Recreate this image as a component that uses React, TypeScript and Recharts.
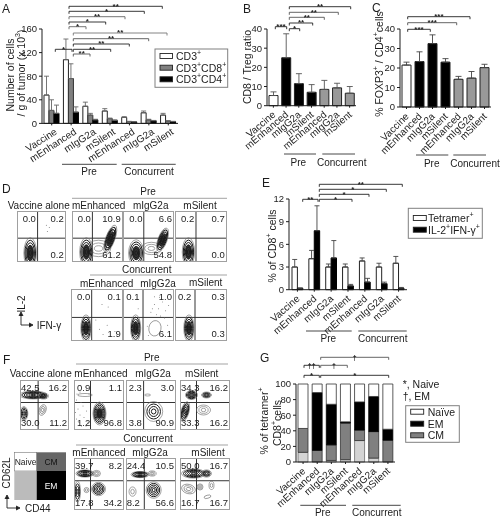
import { BarChart, Bar, XAxis, YAxis, ErrorBar, Cell, ScatterChart, Scatter, ReferenceLine } from 'recharts';

const FONT = '"Liberation Sans", Arial, sans-serif';
const INK = '#1c1c1c';

const categories = ['Vaccine', 'mEnhanced', 'mIgG2a', 'mSilent', 'mEnhanced', 'mIgG2a', 'mSilent'];

// panel A
const cd3Values = [48, 108, 29, 21, 10, 18, 14];
const cd3Errors = [32, 35, 7, 4, 1.5, 3, 3];
const cd8Values = [22, 76, 14, 8, 3, 6, 4];
const cd8Errors = [18, 25, 3, 1, 0.5, 1, 0.5];
const cd4Values = [17, 19, 6, 5, 2.5, 4.5, 3];
const cd4Errors = [14, 9, 1, 1, 0.5, 0.5, 0.5];
const ticksA = [0, 40, 80, 120, 160];

// panel B
const ratioValues = [5.3, 25, 11.5, 7, 8.5, 9.3, 6.5];
const ratioErrors = [1.9, 12.5, 5.2, 4, 4.7, 2.4, 3.5];
const ticksB = [0, 10, 20, 30, 40];

// panel C
const foxp3Values = [21.5, 23.3, 32.5, 23, 14.2, 14.8, 20.2];
const foxp3Errors = [1.5, 5, 4.5, 1.8, 1.5, 3.4, 1.7];
const ticksC = [0, 10, 20, 30, 40];

const groupColors = ['#ffffff', '#000000', '#000000', '#000000', '#999999', '#999999', '#999999'];

// panel E
const tetramerValues = [3, 4.1, 3, 3, 3.8, 3, 3.5];
const tetramerErrors = [1, 1.1, 0.4, 0.4, 0.4, 0.5, 0.9];
const il2Values = [0.2, 7.8, 4.2, 0.5, 1, 0.8, 0.2];
const il2Errors = [0, 3.3, 2.3, 0.2, 0.5, 0.2, 0.1];
const ticksE = [0, 3, 6, 9, 12];

// panel G
const dnValues = [12.4, 0, 2, 3, 27.5, 5, 0];
const cmValues = [30.6, 15, 20, 47, 13.5, 34, 28];
const emValues = [0, 74, 52, 1.5, 36, 45, 14];
const naiveValues = [57, 11, 26, 48.5, 23, 16, 58];
const ticksG = [0, 20, 40, 60, 80, 100];

// flow plots: populations as x, y, spread x, spread y, tilt, rings (percent of the plot)
type Blob = { x: number; y: number; sx: number; sy: number; tilt: number; rings: number };
const b = (x: number, y: number, sx: number, sy: number, tilt = 0, rings = 6): Blob => ({ x, y, sx, sy, tilt, rings });

const dVaccine = [b(27, 18, 13, 30)];
const dEnhPre = [b(52, 27, 24, 16, 0, 3), b(28, 20, 13, 28), b(75, 46, 9, 28, 20)];
const dIggPre = [b(56, 27, 20, 12, 0, 3), b(26, 18, 15, 26), b(78, 44, 9, 24, 20)];
const dSilPre = [b(26, 20, 12, 28)];
const dEnhCon = [b(29, 24, 10, 26)];
const dIggCon = [b(63, 24, 12, 15, 10, 1), b(25, 24, 10, 26)];
const dSilCon = [b(27, 24, 10, 26)];

const fVaccine = [b(27, 70, 28, 8), b(48, 68, 10, 6, 0, 4), b(8, 33, 8, 14, 0, 5), b(46, 40, 7, 11, 20, 3)];
const fEnhPre = [b(51, 33, 13, 23, 0, 7), b(22, 70, 15, 3, 0, 1)];
const fIggPre = [b(55, 37, 18, 20, 0, 4), b(43, 70, 6, 2, 0, 1)];
const fSilPre = [b(23, 70, 12, 9), b(53, 70, 10, 6, 0, 4), b(10, 37, 8, 20, 15, 5), b(47, 40, 14, 10, 0, 3)];
const fEnhCon = [b(22, 70, 18, 7), b(45, 70, 8, 6, 0, 3), b(7, 35, 6, 20, 0, 4), b(49, 40, 14, 13, 0, 5), b(25, 38, 5, 5, 0, 2)];
const fIggCon = [b(28, 68, 18, 6), b(52, 70, 8, 5, 0, 3), b(55, 38, 15, 16, 0, 5), b(13, 35, 7, 9, 0, 2)];
const fSilCon = [b(27, 70, 24, 9), b(53, 70, 10, 7, 0, 4), b(17, 40, 14, 9, 15, 3), b(40, 44, 6, 6, 0, 3), b(63, 47, 5, 8, 0, 2), b(55, 25, 7, 3, -15, 1)];

const dotsLow = [[55, 22], [62, 12], [70, 30], [48, 40], [60, 70], [72, 65], [85, 18]];
const dotsIggCon = [[55, 55], [62, 70], [70, 62], [78, 75], [84, 58], [66, 50], [90, 68], [74, 48], [58, 62], [82, 44], [48, 28], [88, 30], [92, 14], [50, 10], [80, 10], [72, 84], [62, 85], [30, 62]];
const dotsEnhF = [[5, 60], [8, 42], [12, 30], [10, 15], [18, 48], [20, 25], [5, 22], [15, 8], [25, 38], [28, 16], [24, 8], [3, 35], [14, 55], [30, 72], [12, 76], [6, 72]];

const toRows = (cols: Record<string, number[]>) =>
  categories.map((name, i) => {
    const row: Record<string, any> = { name, id: i };
    Object.entries(cols).forEach(([k, v]) => { row[k] = v[i]; });
    return row;
  });
const errs = (v: number[]) => v.map((e) => [0, e]);

const CatTick = ({ x, y, index, rot, shift = 3 }: any) => (
  <text x={x + shift} y={y + 6} fontSize={10} fill={INK} textAnchor="end" transform={`rotate(${rot} ${x + shift} ${y + 6})`} fontFamily={FONT}>
    {categories[index]}
  </text>
);

// box is the plot rectangle on the page, the chart svg is placed around it
function BarPanel({ box, ticks, domain, rows, rot, shift, children }: any) {
  const [x0, top, x1, bottom] = box;
  return (
    <div style={{ position: 'absolute', left: x0 - 30, top: top - 8 }}>
      <BarChart
        width={x1 - x0 + 38}
        height={bottom - top + 66}
        data={rows}
        barGap={0}
        margin={{ left: 0, right: 8, top: 8, bottom: 2 }}
      >
        <XAxis dataKey="id" type="category" height={56} stroke={INK} tickSize={2} interval={0} tick={<CatTick rot={rot} shift={shift} />} />
        <YAxis width={30} ticks={ticks} domain={domain} stroke={INK} tickSize={3} interval={0} tick={{ fontSize: 9.5, fill: INK, fontFamily: FONT }} />
        {children}
      </BarChart>
    </div>
  );
}

const blobShape = (plotW: number, plotH: number) => (props: any) => {
  const { cx, cy, payload } = props;
  const { sx, sy, tilt, rings } = payload as Blob;
  const out = [];
  for (let i = 0; i < rings; i++) {
    const k = 1 - i / rings;
    const dark = rings > 3 && i > 0;
    // only the tall lymphocyte clouds have a solid core
    const core = rings >= 6 && sy > 20 && i === rings - 3;
    out.push(
      <ellipse
        key={i}
        cx={cx}
        cy={cy}
        rx={(sx * plotW * k) / 100}
        ry={(sy * plotH * k) / 100}
        transform={`rotate(${tilt} ${cx} ${cy})`}
        fill={core ? '#333333' : 'none'}
        stroke={dark ? '#1a1a1a' : '#666666'}
        strokeWidth={dark ? 1 : 0.6}
      />,
    );
  }
  return <g>{out}</g>;
};

const dotShape = (props: any) => <circle cx={props.cx} cy={props.cy} r={0.5} fill="#777777" />;

function FlowPlot({ x, y, w, h, qx, qy, blobs, dots, labels }: any) {
  const data = blobs;
  const points = (dots || []).map((d: number[]) => ({ x: d[0], y: d[1] }));
  const style = { position: 'absolute', fontSize: 9.5, lineHeight: '10px', color: INK, fontFamily: FONT } as const;
  return (
    <div style={{ position: 'absolute', left: x, top: y, width: w, height: h, overflow: 'hidden' }}>
      <ScatterChart width={w} height={h} margin={{ left: 0, right: 0, top: 0, bottom: 0 }}>
        <XAxis type="number" dataKey="x" domain={[0, 100]} hide />
        <YAxis type="number" dataKey="y" domain={[0, 100]} hide />
        <Scatter data={data} isAnimationActive={false} shape={blobShape(w, h)} />
        <Scatter data={points} isAnimationActive={false} shape={dotShape} />
        <ReferenceLine x={qx} stroke="#333333" strokeWidth={1} />
        <ReferenceLine y={qy} stroke="#333333" strokeWidth={1} />
      </ScatterChart>
      <div style={{ position: 'absolute', inset: 0, boxSizing: 'border-box', border: '1px solid #a0a0a0' }} />
      <span style={{ ...style, left: labels.inset ?? 6, top: 3 }}>{labels.v[0]}</span>
      <span style={{ ...style, right: 2, top: 3 }}>{labels.v[1]}</span>
      <span style={{ ...style, left: labels.inset ?? 6, bottom: 2 }}>{labels.v[2]}</span>
      <span style={{ ...style, right: 2, bottom: 2 }}>{labels.v[3]}</span>
    </div>
  );
}

const T = ({ x, y, size = 10, anchor = 'middle', rot, fill = INK, children }: any) => (
  <text
    x={x}
    y={y}
    fontSize={size}
    fill={fill}
    textAnchor={anchor}
    dominantBaseline="central"
    transform={rot ? `rotate(${rot} ${x} ${y})` : undefined}
  >
    {children}
  </text>
);
const Sup = ({ children }: any) => (
  <tspan baselineShift="super" fontSize={7}>{children}</tspan>
);

const Bracket = ({ x1, x2, y, mark, stroke = '#222222', size = 8 }: any) => (
  <g>
    <path d={`M${x1} ${y + 2.5} V${y} H${x2} V${y + 2.5}`} fill="none" stroke={stroke} strokeWidth={0.9} />
    <text x={(x1 + x2) / 2} y={y + 2.2} fontSize={size} fontWeight="bold" textAnchor="middle" fill="#222222">{mark}</text>
  </g>
);

const Rule = ({ x1, x2, y, stroke = '#333333' }: any) => <line x1={x1} x2={x2} y1={y} y2={y} stroke={stroke} strokeWidth={0.9} />;

const Groups = ({ pre, con, y, ty }: any) => (
  <g>
    <Rule x1={pre[0]} x2={pre[1]} y={y} />
    <Rule x1={con[0]} x2={con[1]} y={y} />
    <T x={pre[2]} y={ty}>Pre</T>
    <T x={con[2]} y={ty}>Concurrent</T>
  </g>
);

const LegendBox = ({ x, y, w, h, rows, sw = 12.5, tx }: any) => (
  <g>
    <rect x={x} y={y} width={w} height={h} fill="#ffffff" stroke="#808080" strokeWidth={1} />
    {rows.map((r: any) => (
      <g key={r.y}>
        <rect x={x + 5} y={r.y - 2.5} width={sw} height={5} fill={r.fill} stroke="#222222" strokeWidth={0.9} />
        <T x={tx} y={r.y} anchor="start" size={10.5}>{r.label}</T>
      </g>
    ))}
  </g>
);

const ErrBar = ({ k, stroke = '#444444', w = 2.5 }: any) => (
  <ErrorBar dataKey={k} direction="y" width={w} stroke={stroke} strokeWidth={0.9} isAnimationActive={false} />
);

export default function App() {
  const rowsA = toRows({ cd3: cd3Values, cd8: cd8Values, cd4: cd4Values });
  rowsA.forEach((r, i) => { r.e3 = [0, cd3Errors[i]]; r.e8 = [0, cd8Errors[i]]; r.e4 = [0, cd4Errors[i]]; });
  const rowsB = toRows({ v: ratioValues }).map((r, i) => ({ ...r, e: errs(ratioErrors)[i] }));
  const rowsC = toRows({ v: foxp3Values }).map((r, i) => ({ ...r, e: errs(foxp3Errors)[i] }));
  const rowsE = toRows({ t: tetramerValues, il: il2Values }).map((r, i) => ({ ...r, et: errs(tetramerErrors)[i], ei: errs(il2Errors)[i] }));
  const rowsG = toRows({ dn: dnValues, cm: cmValues, em: emValues, naive: naiveValues });

  return (
    <div style={{ position: 'fixed', left: 0, top: 0, width: 501, height: 520, background: '#ffffff', overflow: 'hidden', fontFamily: FONT, filter: 'blur(0.3px)' }}>
      <BarPanel box={[42, 29.3, 178, 123.7]} ticks={ticksA} domain={[0, 160]} rows={rowsA} rot={-33} shift={6}>
        <Bar dataKey="cd3" barSize={5} fill="#ffffff" stroke="#222222" isAnimationActive={false}><ErrBar k="e3" stroke="#666666" /></Bar>
        <Bar dataKey="cd8" barSize={5} fill="#808080" stroke="#333333" isAnimationActive={false}><ErrBar k="e8" stroke="#666666" /></Bar>
        <Bar dataKey="cd4" barSize={5} fill="#000000" stroke="#000000" isAnimationActive={false}><ErrBar k="e4" stroke="#666666" /></Bar>
      </BarPanel>

      <BarPanel box={[267, 29.3, 356, 106]} ticks={ticksB} domain={[0, 40]} rows={rowsB} rot={-40}>
        <Bar dataKey="v" barSize={9} stroke="#222222" isAnimationActive={false}>
          {groupColors.map((c, i) => <Cell key={i} fill={c} />)}
          <ErrBar k="e" stroke="#555555" w={3} />
        </Bar>
      </BarPanel>

      <BarPanel box={[400, 28.7, 491, 106.7]} ticks={ticksC} domain={[0, 40]} rows={rowsC} rot={-45}>
        <Bar dataKey="v" barSize={9} stroke="#222222" isAnimationActive={false}>
          {groupColors.map((c, i) => <Cell key={i} fill={c} />)}
          <ErrBar k="e" stroke="#444444" w={3} />
        </Bar>
      </BarPanel>

      <BarPanel box={[289.3, 199, 407.3, 289.7]} ticks={ticksE} domain={[0, 12]} rows={rowsE} rot={-41}>
        <Bar dataKey="t" barSize={5.4} fill="#ffffff" stroke="#222222" isAnimationActive={false}><ErrBar k="et" stroke="#444444" /></Bar>
        <Bar dataKey="il" barSize={5.4} fill="#000000" stroke="#000000" isAnimationActive={false}><ErrBar k="ei" stroke="#444444" /></Bar>
      </BarPanel>

      <BarPanel box={[296, 384, 395, 462]} ticks={ticksG} domain={[0, 100]} rows={rowsG} rot={-42}>
        <Bar dataKey="dn" stackId="g" barSize={10} fill="#d4d4d4" stroke="#444444" strokeWidth={0.6} isAnimationActive={false} />
        <Bar dataKey="cm" stackId="g" barSize={10} fill="#808080" stroke="#333333" strokeWidth={0.8} isAnimationActive={false} />
        <Bar dataKey="em" stackId="g" barSize={10} fill="#000000" stroke="#000000" strokeWidth={0.8} isAnimationActive={false} />
        <Bar dataKey="naive" stackId="g" barSize={10} fill="#ffffff" stroke="#333333" strokeWidth={0.8} isAnimationActive={false} />
      </BarPanel>

      <FlowPlot x={16.7} y={211} w={49} h={51.3} qx={42} qy={47} blobs={dVaccine} dots={[[60, 72], [66, 68], [62, 60]]} labels={{ v: ['0.0', '0.2', '', '0.2'] }} />
      <FlowPlot x={71.7} y={211} w={51} h={51.3} qx={40} qy={47} blobs={dEnhPre} labels={{ v: ['0.0', '10.9', '', '61.2'] }} />
      <FlowPlot x={123.3} y={211} w={50.7} h={51.3} qx={41} qy={47} blobs={dIggPre} labels={{ v: ['0.0', '6.6', '', '54.8'] }} />
      <FlowPlot x={175} y={211} w={51.7} h={51.3} qx={40.6} qy={47} blobs={dSilPre} labels={{ v: ['0.2', '0.7', '', '0.0'] }} />
      <FlowPlot x={71} y={289} w={51.7} h={51.7} qx={40} qy={45} blobs={dEnhCon} dots={dotsLow} labels={{ v: ['0.0', '0.1', '', '1.9'] }} />
      <FlowPlot x={123.3} y={289} w={50.7} h={51.7} qx={39.5} qy={45} blobs={dIggCon} dots={dotsIggCon} labels={{ v: ['0.1', '1.0', '', '6.1'], inset: 3 }} />
      <FlowPlot x={175} y={289} w={51.7} h={51.7} qx={38.7} qy={45} blobs={dSilCon} labels={{ v: ['0.2', '0.3', '', '0.3'], inset: 3 }} />

      <FlowPlot x={20} y={380} w={49} h={50} qx={37} qy={55} blobs={fVaccine} labels={{ v: ['42.5', '16.2', '30.0', '11.2'], inset: 1 }} />
      <FlowPlot x={74} y={380} w={50} h={50} qx={33} qy={55} blobs={fEnhPre} dots={dotsEnhF} labels={{ v: ['0.9', '1.1', '1.2', '96.8'], inset: 3 }} />
      <FlowPlot x={125.7} y={380} w={50.3} h={50} qx={35} qy={55} blobs={fIggPre} labels={{ v: ['2.3', '3.0', '3.8', '90.9'], inset: 3 }} />
      <FlowPlot x={180} y={380} w={50} h={50} qx={33} qy={55} blobs={fSilPre} labels={{ v: ['34.3', '16.2', '33.3', '16.2'], inset: 1 }} />
      <FlowPlot x={74} y={458.3} w={50} h={51.7} qx={33} qy={56} blobs={fEnhCon} labels={{ v: ['39.7', '8.2', '17.8', '34.2'], inset: 1 }} />
      <FlowPlot x={125.7} y={458.3} w={50.3} h={51.7} qx={36.4} qy={56} blobs={fIggCon} labels={{ v: ['24.4', '10.5', '8.2', '56.6'], inset: 1 }} />
      <FlowPlot x={180} y={458.3} w={50} h={51.7} qx={33} qy={56} blobs={fSilCon} labels={{ v: ['50.0', '16.7', '16.7', '16.7'], inset: 1 }} />

      <svg width={501} height={520} style={{ position: 'absolute', left: 0, top: 0, pointerEvents: 'none', fontFamily: FONT }}>
        {/* panel letters */}
        <T x={2} y={9} size={12} anchor="start">A</T>
        <T x={243} y={9} size={12} anchor="start">B</T>
        <T x={372} y={8} size={12} anchor="start">C</T>
        <T x={2} y={189} size={12} anchor="start">D</T>
        <T x={262} y={183} size={12} anchor="start">E</T>
        <T x={3} y={360} size={12} anchor="start">F</T>
        <T x={260} y={358} size={12} anchor="start">G</T>

        {/* axis titles */}
        <T x={10} y={75} rot={-90} size={10.5}>Number of cells</T>
        <T x={21} y={73} rot={-90} size={10.5}>/ g of tumor (x 10<Sup>3</Sup>)</T>
        <T x={247} y={67} rot={-90} size={10.5}>CD8 / Treg ratio</T>
        <T x={379} y={64} rot={-90} size={10.5}>% FOXP3<Sup>+</Sup> / CD4<Sup>+</Sup>cells</T>
        <T x={272} y={246} rot={-90} size={10.5}>% of CD8<Sup>+</Sup> cells</T>
        <T x={264} y={421} rot={-90} size={10.5}>% of tetramer<Sup>+</Sup></T>
        <T x={277} y={423} rot={-90} size={10.5}>CD8<Sup>+</Sup>cells</T>

        {/* panel A brackets */}
        <Bracket x1={69} x2={162.3} y={6.3} mark="**" />
        <Bracket x1={69} x2={144.3} y={11.3} mark="*" />
        <Bracket x1={69} x2={125} y={16.7} mark="**" stroke="#666666" />
        <Bracket x1={69} x2={105.7} y={22} mark="*" />
        <Bracket x1={69} x2={86} y={26.7} mark="*" stroke="#666666" />
        <Bracket x1={73.3} x2={167} y={33} mark="**" stroke="#777777" />
        <Bracket x1={73.3} x2={148.7} y={38.7} mark="**" stroke="#555555" />
        <Bracket x1={73.3} x2={129.3} y={44} mark="**" />
        <Bracket x1={73.3} x2={110.7} y={49.3} mark="**" />
        <Bracket x1={73.3} x2={90} y={54} mark="**" stroke="#555555" />
        <Bracket x1={55.3} x2={72} y={49.3} mark="*" />

        {/* panel B brackets */}
        <Bracket x1={275.3} x2={286.7} y={26.7} mark="***" />
        <Bracket x1={289.3} x2={299.7} y={28.7} mark="*" />
        <Bracket x1={289.3} x2={312.7} y={23} mark="**" />
        <Bracket x1={289.3} x2={324.3} y={17.3} mark="**" stroke="#555555" />
        <Bracket x1={289.3} x2={338.3} y={12.3} mark="**" stroke="#555555" />
        <Bracket x1={289.3} x2={350.7} y={6.7} mark="**" />

        {/* panel C brackets */}
        <Bracket x1={407.7} x2={430.3} y={29.3} mark="***" />
        <Bracket x1={407.7} x2={456.7} y={22.7} mark="***" stroke="#555555" />
        <Bracket x1={407.7} x2={470} y={16.7} mark="***" />

        {/* panel E brackets */}
        <Bracket x1={302.7} x2={318} y={199.3} mark="**" />
        <Bracket x1={319.3} x2={352} y={199.3} mark="*" />
        <Bracket x1={319.3} x2={369} y={194.3} mark="*" />
        <Bracket x1={319.3} x2={386.3} y={189.3} mark="*" />
        <Bracket x1={319.3} x2={402.3} y={184.3} mark="**" />

        {/* panel G brackets */}
        <Bracket x1={304} x2={319.3} y={365.3} mark="††" size={7} />
        <Bracket x1={304} x2={319.3} y={375.3} mark="*" />
        <Bracket x1={320.7} x2={347.3} y={365.3} mark="†" size={7} stroke="#555555" />
        <Bracket x1={320.7} x2={388.7} y={357.3} mark="†" size={7} stroke="#555555" />
        <Bracket x1={320.7} x2={388.7} y={375.3} mark="*" />
        <T x={402.7} y={383.5} anchor="start" size={10.5}>*, Naive</T>
        <T x={402.7} y={395.5} anchor="start" size={10.5}>†, EM</T>

        {/* group rules */}
        <Groups pre={[62, 116.7, 89]} con={[121.7, 175.7, 149]} y={164.3} ty={171.7} />
        <Groups pre={[284, 316, 298.3]} con={[322.3, 355, 341.7]} y={154} ty={162.5} />
        <Groups pre={[416, 448.3, 431.7]} con={[453.3, 486, 475]} y={155} ty={163} />
        <Groups pre={[306, 351.7, 328.3]} con={[358.3, 406.7, 382.7]} y={331} ty={338.5} />
        <Groups pre={[300.3, 346, 322.7]} con={[352.3, 400.7, 376.7]} y={505.3} ty={512.7} />

        {/* legends */}
        <LegendBox x={155} y={49} w={72.7} h={38.3} tx={176} rows={[
          { y: 56, fill: '#ffffff', label: <>CD3<Sup>+</Sup></> },
          { y: 67.7, fill: '#808080', label: <>CD3<Sup>+</Sup>CD8<Sup>+</Sup></> },
          { y: 79.3, fill: '#000000', label: <>CD3<Sup>+</Sup>CD4<Sup>+</Sup></> },
        ]} />
        <LegendBox x={408.3} y={208.3} w={74} h={30} sw={13} tx={428} rows={[
          { y: 218, fill: '#ffffff', label: <>Tetramer<Sup>+</Sup></> },
          { y: 229.7, fill: '#000000', label: <>IL-2<Sup>+</Sup>IFN-γ<Sup>+</Sup></> },
        ]} />
        <LegendBox x={405.7} y={405.7} w={53.6} h={36.6} sw={13} tx={427.7} rows={[
          { y: 411.7, fill: '#ffffff', label: 'Naïve' },
          { y: 423.7, fill: '#000000', label: 'EM' },
          { y: 435.3, fill: '#808080', label: 'CM' },
        ]} />

        {/* panel D titles */}
        <T x={148} y={191}>Pre</T>
        <Rule x1={72} x2={227} y={198.3} stroke="#999999" />
        <T x={38.7} y={205}>Vaccine alone</T>
        <T x={98.7} y={205}>mEnhanced</T>
        <T x={150.7} y={205}>mIgG2a</T>
        <T x={200} y={205}>mSilent</T>
        <T x={146.7} y={269}>Concurrent</T>
        <Rule x1={90} x2={227} y={275} stroke="#999999" />
        <T x={106.7} y={283}>mEnhanced</T>
        <T x={158} y={283}>mIgG2a</T>
        <T x={205.7} y={282}>mSilent</T>
        <T x={21.7} y={304} rot={-90}>IL-2</T>
        <path d="M21 325 V314 M19 316 L21 312 L23 316 M21 325 H31 M29 323 L33 325 L29 327" fill="#222222" stroke="#222222" strokeWidth={0.9} />
        <T x={36.7} y={325} anchor="start">IFN-γ</T>

        {/* panel F titles */}
        <T x={151.7} y={357}>Pre</T>
        <Rule x1={76} x2={228} y={364} stroke="#999999" />
        <T x={40.7} y={373}>Vaccine alone</T>
        <T x={101} y={373}>mEnhanced</T>
        <T x={153} y={373}>mIgG2a</T>
        <T x={201.7} y={373}>mSilent</T>
        <T x={148} y={438}>Concurrent</T>
        <Rule x1={76} x2={228} y={445} stroke="#999999" />
        <T x={99} y={452}>mEnhanced</T>
        <T x={150} y={452}>mIgG2a</T>
        <T x={208} y={452}>mSilent</T>

        {/* memory quadrant key */}
        <rect x={14.3} y={452.3} width={22.4} height={18.7} fill="#ffffff" stroke="#777777" strokeWidth={0.6} />
        <rect x={36.7} y={452.3} width={29.3} height={18.7} fill="#666666" />
        <rect x={14.3} y={471} width={22.4} height={29} fill="#bbbbbb" />
        <rect x={36.7} y={471} width={29.3} height={29} fill="#000000" />
        <T x={25.5} y={461.5} size={8.5}>Naive</T>
        <T x={51} y={461.5} size={8.5} fill="#111111">CM</T>
        <T x={51} y={486} size={8.5} fill="#ffffff">EM</T>
        <T x={6.5} y={473} rot={-90}>CD62L</T>
        <path d="M7 508 V497 M5 499 L7 495 L9 499 M7 508 H18 M16 506 L20 508 L16 510" fill="#222222" stroke="#222222" strokeWidth={0.9} />
        <T x={25} y={508} anchor="start">CD44</T>
      </svg>
    </div>
  );
}
